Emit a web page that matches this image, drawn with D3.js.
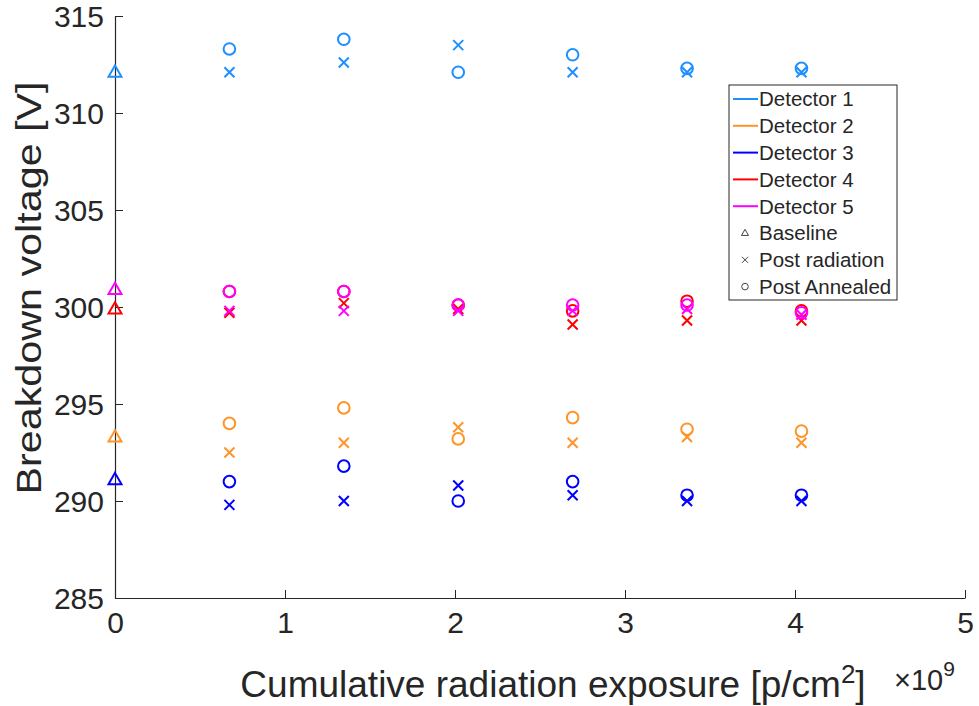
<!DOCTYPE html>
<html>
<head>
<meta charset="utf-8">
<script src="https://cdn.jsdelivr.net/npm/d3@7"></script>
<style>
  html, body { margin: 0; padding: 0; background: #fff; }
  svg { display: block; }
  text { font-family: "Liberation Sans", Arial, Helvetica, sans-serif; fill: #262626; }
</style>
</head>
<body>
<svg id="chart" width="979" height="706"></svg>
<script>
// Cumulative exposure after each irradiation step, in units of 1e9 p/cm^2
const exposure = [0, 0.673, 1.346, 2.019, 2.692, 3.365, 4.038];

const detectorNames = ["Detector 1", "Detector 2", "Detector 3", "Detector 4", "Detector 5"];
const detectorColors = ["#1e8fff", "#ff9428", "#0000ff", "#ff0000", "#ff00ff"];

// Breakdown voltage before any irradiation [V]
const baseline = [312.1, 293.3, 291.1, 299.9, 300.9];

// Breakdown voltage measured right after each irradiation step [V]
const postRadiation = [
  [312.1, 312.6, 313.5, 312.1, 312.1, 312.1],
  [292.5, 293.0, 293.8, 293.0, 293.3, 293.0],
  [289.8, 290.0, 290.8, 290.3, 290.0, 290.0],
  [299.7, 300.2, 299.9, 299.1, 299.3, 299.3],
  [299.8, 299.8, 299.8, 299.8, 299.9, 299.6]
];

// Breakdown voltage measured after annealing [V]
const postAnnealed = [
  [313.3, 313.8, 312.1, 313.0, 312.3, 312.3],
  [294.0, 294.8, 293.2, 294.3, 293.7, 293.6],
  [291.0, 291.8, 290.0, 291.0, 290.3, 290.3],
  [300.8, 300.8, 300.1, 299.8, 300.3, 299.8],
  [300.8, 300.8, 300.1, 300.1, 300.1, 299.7]
];

const xTicks = [0, 1, 2, 3, 4, 5];
const yTicks = [285, 290, 295, 300, 305, 310, 315];

const svg = d3.select("#chart");
const axisColor = "#262626";

const x = d3.scaleLinear().domain([0, 5]).range([115, 965]);
const y = d3.scaleLinear().domain([285, 315]).range([598, 16]);

// Axes: left and bottom only, ticks pointing into the plot
const xAxis = d3.axisBottom(x).tickValues(xTicks).tickSizeInner(-8).tickSizeOuter(0).tickPadding(14).tickFormat(d3.format("d"));
const yAxis = d3.axisLeft(y).tickValues(yTicks).tickSizeInner(-8).tickSizeOuter(0).tickPadding(11).tickFormat(d3.format("d"));

const gx = svg.append("g").attr("transform", `translate(0,${y(285)})`).call(xAxis);
const gy = svg.append("g").attr("transform", `translate(${x(0)},0)`).call(yAxis);
[gx, gy].forEach(g => {
  g.select(".domain").attr("stroke", axisColor).attr("stroke-width", 1.2);
  g.selectAll(".tick line").attr("stroke", axisColor).attr("stroke-width", 1);
  g.selectAll(".tick text")
    .attr("fill", axisColor)
    .style("font-family", '"Liberation Sans", Arial, sans-serif')
    .style("font-size", "30px");
});
gy.selectAll(".tick text").attr("dy", "0.36em");

// Axis titles
svg.append("text")
  .attr("x", 553).attr("y", 697)
  .attr("text-anchor", "middle")
  .style("font-size", "37px")
  .call(t => {
    t.append("tspan").text("Cumulative radiation exposure [p/cm");
    t.append("tspan").attr("dy", -14).style("font-size", "26px").text("2");
    t.append("tspan").attr("dy", 14).text("]");
  });

svg.append("text")
  .attr("x", 894).attr("y", 690)
  .style("font-size", "29px")
  .call(t => {
    t.append("tspan").text("\u00d710");
    t.append("tspan").attr("dy", -14).style("font-size", "21px").text("9");
  });

svg.append("text")
  .attr("transform", "translate(41,288) rotate(-90) scale(1.18,1)")
  .attr("text-anchor", "middle")
  .style("font-size", "35px")
  .text("Breakdown voltage [V]");

// Marker shapes
const markerStroke = 2;
function drawTriangle(g, cx, cy, s, color, w) {
  const h = s * 0.87;
  g.append("path")
    .attr("d", `M${cx},${cy - h * 0.6}L${cx + s / 2},${cy + h * 0.4}L${cx - s / 2},${cy + h * 0.4}Z`)
    .attr("fill", "none").attr("stroke", color).attr("stroke-width", w).attr("stroke-linejoin", "miter");
}
function drawCross(g, cx, cy, s, color, w) {
  const r = s / 2;
  g.append("path")
    .attr("d", `M${cx - r},${cy - r}L${cx + r},${cy + r}M${cx - r},${cy + r}L${cx + r},${cy - r}`)
    .attr("fill", "none").attr("stroke", color).attr("stroke-width", w);
}
function drawCircle(g, cx, cy, r, color, w) {
  g.append("circle")
    .attr("cx", cx).attr("cy", cy).attr("r", r)
    .attr("fill", "none").attr("stroke", color).attr("stroke-width", w);
}

// Data markers, one group per detector
const plot = svg.append("g");
detectorNames.forEach((name, i) => {
  const g = plot.append("g").attr("class", "detector");
  const c = detectorColors[i];
  drawTriangle(g, x(exposure[0]), y(baseline[i]), 13, c, markerStroke);
  postRadiation[i].forEach((v, j) => drawCross(g, x(exposure[j + 1]), y(v), 10, c, markerStroke));
  postAnnealed[i].forEach((v, j) => drawCircle(g, x(exposure[j + 1]), y(v), 5.8, c, markerStroke));
});

// Legend
const legend = svg.append("g").attr("transform", "translate(729,85)");
legend.append("rect")
  .attr("x", 0).attr("y", 0).attr("width", 168).attr("height", 215)
  .attr("fill", "#fff").attr("stroke", axisColor).attr("stroke-width", 1);
const rowY = i => 14 + i * 26.8;
const legendFont = "20.5px";
detectorNames.forEach((name, i) => {
  legend.append("line")
    .attr("x1", 4).attr("x2", 29).attr("y1", rowY(i)).attr("y2", rowY(i))
    .attr("stroke", detectorColors[i]).attr("stroke-width", 2);
  legend.append("text")
    .attr("x", 30).attr("y", rowY(i)).attr("dy", "0.36em")
    .style("font-size", legendFont).text(name);
});
const markerLabels = ["Baseline", "Post radiation", "Post Annealed"];
const markerGray = "#404040";
markerLabels.forEach((label, k) => {
  const i = detectorNames.length + k;
  const cy = rowY(i), cx = 16;
  if (k === 0) drawTriangle(legend, cx, cy, 7, markerGray, 1);
  if (k === 1) drawCross(legend, cx, cy, 6, markerGray, 1);
  if (k === 2) drawCircle(legend, cx, cy, 3.3, markerGray, 1);
  legend.append("text")
    .attr("x", 30).attr("y", cy).attr("dy", "0.36em")
    .style("font-size", legendFont).text(label);
});
</script>
</body>
</html>
